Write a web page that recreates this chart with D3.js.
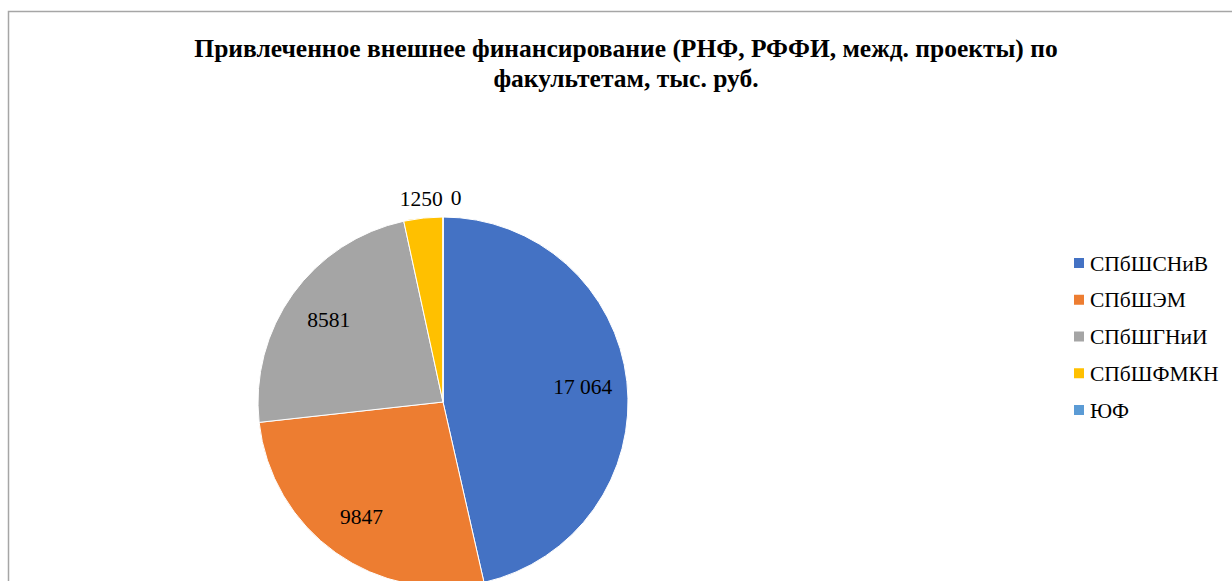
<!DOCTYPE html>
<html>
<head>
<meta charset="utf-8">
<style>
  body { margin: 0; background: #fff; }
</style>
</head>
<body>
<svg id="chart" width="1232" height="581" font-family="'Liberation Serif', 'Times New Roman', serif"></svg>
<script src="https://d3js.org/d3.v7.min.js"></script>
<script>

var title = ["Привлеченное внешнее финансирование (РНФ, РФФИ, межд. проекты) по",
             "факультетам, тыс. руб."];
var faculties = ["СПбШСНиВ", "СПбШЭМ", "СПбШГНиИ", "СПбШФМКН", "ЮФ"];
var values = [17064, 9847, 8581, 1250, 0];
var valueLabels = ["17 064", "9847", "8581", "1250", "0"];
var colors = ["#4472C4", "#ED7D31", "#A5A5A5", "#FFC000", "#5B9BD5"];

var svg = d3.select("#chart");

// chart area border (runs off the right and bottom edge)
svg.append("rect")
    .attr("x", 8.5).attr("y", 11.5)
    .attr("width", 1300).attr("height", 700)
    .attr("fill", "#fff")
    .attr("stroke", "#a6a6a6")
    .attr("stroke-width", 1.5);

svg.append("g").selectAll("text")
    .data(title)
    .join("text")
    .attr("x", 626)
    .attr("y", function(d, i) { return 57 + i * 30; })
    .attr("text-anchor", "middle")
    .attr("font-weight", "bold")
    .attr("font-size", 25.5)
    .attr("fill", "#000")
    .text(function(d) { return d; });

var cx = 443, cy = 402, R = 185;

var pie = d3.pie().sort(null).value(function(d) { return d; });
var arcs = pie(values);
var arc = d3.arc().innerRadius(0).outerRadius(R);

var g = svg.append("g").attr("transform", "translate(" + cx + "," + cy + ")");

g.selectAll("path")
    .data(arcs)
    .join("path")
    .attr("d", arc)
    .attr("fill", function(d, i) { return colors[i]; })
    .attr("stroke", "#fff")
    .attr("stroke-width", 1);

// data labels: inside for big slices, outside for small ones
var inner = d3.arc().innerRadius(R * 0.76).outerRadius(R * 0.76);
var outer = d3.arc().innerRadius(R + 20).outerRadius(R + 20);
var lastRight = null;
arcs.forEach(function(a, i) {
  var small = (a.endAngle - a.startAngle) < 0.5;
  var p = small ? outer.centroid(a) : inner.centroid(a);
  var t = g.append("text")
      .attr("x", p[0])
      .attr("y", p[1])
      .attr("dy", "0.35em")
      .attr("text-anchor", "middle")
      .attr("font-size", 21.5)
      .attr("fill", "#000")
      .text(valueLabels[i]);
  if (small) {
    // push a label right when it would sit on its neighbour
    var bb = t.node().getBBox();
    if (lastRight !== null && bb.x < lastRight + 8) {
      t.attr("x", p[0] + (lastRight + 8 - bb.x));
      bb = t.node().getBBox();
    }
    lastRight = bb.x + bb.width;
  }
});

// legend
var legend = svg.append("g").attr("transform", "translate(1074,0)");
var row = d3.scalePoint().domain(faculties).range([263, 410]);
legend.selectAll("rect")
    .data(faculties)
    .join("rect")
    .attr("x", 0)
    .attr("y", function(d) { return row(d) - 5; })
    .attr("width", 10).attr("height", 10)
    .attr("fill", function(d, i) { return colors[i]; });
legend.selectAll("text")
    .data(faculties)
    .join("text")
    .attr("x", 16)
    .attr("y", function(d) { return row(d); })
    .attr("dy", "0.35em")
    .attr("font-size", 21.5)
    .attr("fill", "#000")
    .text(function(d) { return d; });

</script>
</body>
</html>
